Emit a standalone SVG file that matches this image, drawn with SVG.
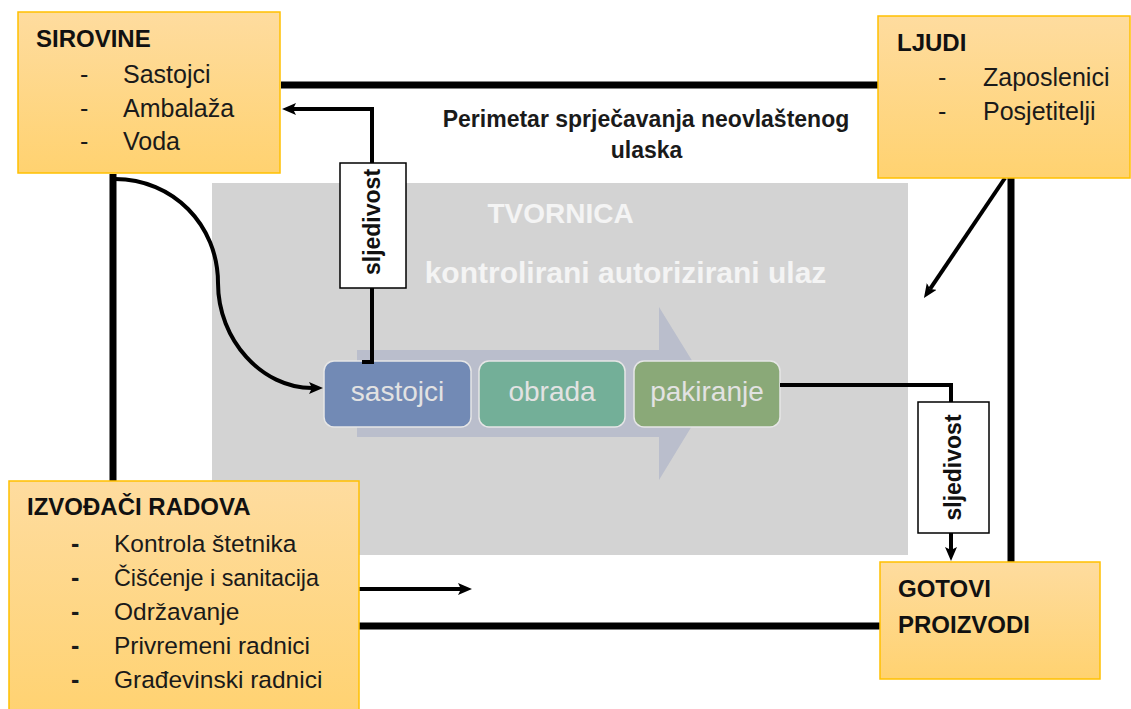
<svg xmlns="http://www.w3.org/2000/svg" width="1131" height="709" viewBox="0 0 1131 709">
<style>
text{font-family:"Liberation Sans",Arial,sans-serif;fill:#1a1a1a}
.h{font-weight:bold;font-size:24px;fill:#111}
.it{font-size:25px}
.box{fill:url(#yg);stroke:#ffc000;stroke-width:1.5}
.per{fill:none;stroke:#000;stroke-width:7}
.con{fill:none;stroke:#000;stroke-width:4}
.arr{marker-end:url(#ah)}
.sl{fill:#fff;stroke:#000;stroke-width:1.5}
.slt{font-weight:bold;font-size:23px;fill:#111}
.pb{stroke:#e6e6e6;stroke-width:1.5}
.pt{font-size:28px;fill:#e2e2e2;text-anchor:middle}
.w{font-weight:bold;fill:#f4f4f4}
</style>
<defs>
<linearGradient id="yg" x1="0" y1="0" x2="0" y2="1">
<stop offset="0" stop-color="#fedc9f"/>
<stop offset="1" stop-color="#ffd270"/>
</linearGradient>
<marker id="ah" markerUnits="userSpaceOnUse" viewBox="0 0 14 12" markerWidth="14" markerHeight="12" refX="3" refY="6" orient="auto">
<path d="M0,0 L14,6 L0,12 L3,6 z" fill="#000"/>
</marker>
</defs>
<rect width="1131" height="709" fill="#fff"/>
<g id="tvornica">
<rect x="212" y="183" width="696" height="372" fill="#d3d3d3"/>
<text class="w" x="560.5" y="223" font-size="28" text-anchor="middle">TVORNICA</text>
<text class="w" x="625.5" y="283" font-size="30" text-anchor="middle">kontrolirani autorizirani ulaz</text>
</g>
<g id="process-arrow">
<polygon points="357,350 659,350 659,307 712,393 659,480 659,437 357,437" fill="#babecc"/>
</g>
<g id="p-sastojci">
<rect class="pb" x="324" y="361" width="147" height="66" rx="10" fill="#728ab5"/>
<text class="pt" x="397.5" y="401">sastojci</text>
</g>
<g id="p-obrada">
<rect class="pb" x="479" y="361" width="146" height="66" rx="10" fill="#73af98"/>
<text class="pt" x="552" y="401">obrada</text>
</g>
<g id="p-pakiranje">
<rect class="pb" x="634" y="361" width="146" height="66" rx="10" fill="#8aa978"/>
<text class="pt" x="707" y="401">pakiranje</text>
</g>
<g id="perimetar-label">
<text font-weight="bold" font-size="23" x="646" y="127" text-anchor="middle" fill="#111">Perimetar sprječavanja neovlaštenog</text>
<text font-weight="bold" font-size="23" x="646.5" y="158" text-anchor="middle" fill="#111">ulaska</text>
</g>
<g id="connectors">
<path class="per" d="M281,85 H878"/>
<path class="per" d="M113,174 V481"/>
<path class="per" d="M1011,178 V562"/>
<path class="per" d="M359,626 H880"/>
<path class="con arr" d="M362,362 H372 V109 H293"/>
<path class="con arr" d="M115,179 C173,179 218,225 218,283 C218,340 262,388 312,388"/>
<path class="con" d="M780,385 H951 V402"/>
<path class="con arr" d="M951,533 V550"/>
<path class="con arr" d="M1005,178 L930.1,288.9"/>
<path class="con arr" d="M359,589 H461"/>
</g>
<g id="sljedivost-1">
<rect class="sl" x="340" y="163" width="66" height="125"/>
<text class="slt" transform="translate(373,222) rotate(-90)" x="0" y="7" text-anchor="middle">sljedivost</text>
</g>
<g id="sljedivost-2">
<rect class="sl" x="918" y="402" width="71" height="131"/>
<text class="slt" transform="translate(953.5,467.5) rotate(-90)" x="0" y="7" text-anchor="middle">sljedivost</text>
</g>
<g id="sirovine">
<rect class="box" x="18" y="12" width="262" height="161"/>
<text class="h" x="36" y="47">SIROVINE</text>
<text class="it" x="80" y="83">-</text><text class="it" x="123" y="83">Sastojci</text>
<text class="it" x="80" y="117">-</text><text class="it" x="123" y="117">Ambalaža</text>
<text class="it" x="80" y="150">-</text><text class="it" x="123" y="150">Voda</text>
</g>
<g id="ljudi">
<rect class="box" x="878" y="16" width="252" height="162"/>
<text class="h" x="897" y="51">LJUDI</text>
<text class="it" x="938" y="86" font-size="25.5">-</text><text class="it" x="983" y="86" font-size="25.5">Zaposlenici</text>
<text class="it" x="938" y="120" font-size="25.5">-</text><text class="it" x="983" y="120" font-size="25.5">Posjetitelji</text>
</g>
<g id="izvodaci-radova">
<rect class="box" x="9" y="481" width="350" height="240"/>
<text class="h" x="27" y="515">IZVOĐAČI RADOVA</text>
<g font-weight="bold" font-size="25">
<text x="71" y="552">-</text><text x="71" y="586">-</text><text x="71" y="620">-</text><text x="71" y="654">-</text><text x="71" y="688">-</text>
</g>
<text x="114" y="552" font-size="24.5">Kontrola štetnika</text>
<text x="114" y="586" font-size="24.5" textLength="205" lengthAdjust="spacingAndGlyphs">Čišćenje i sanitacija</text>
<text x="114" y="620" font-size="24.5">Održavanje</text>
<text x="114" y="654" font-size="24.5">Privremeni radnici</text>
<text x="114" y="688" font-size="24.5">Građevinski radnici</text>
</g>
<g id="gotovi-proizvodi">
<rect class="box" x="880" y="562" width="220" height="117"/>
<text class="h" x="898" y="597" font-size="24.5">GOTOVI</text>
<text class="h" x="898" y="633" font-size="24.5">PROIZVODI</text>
</g>
</svg>
